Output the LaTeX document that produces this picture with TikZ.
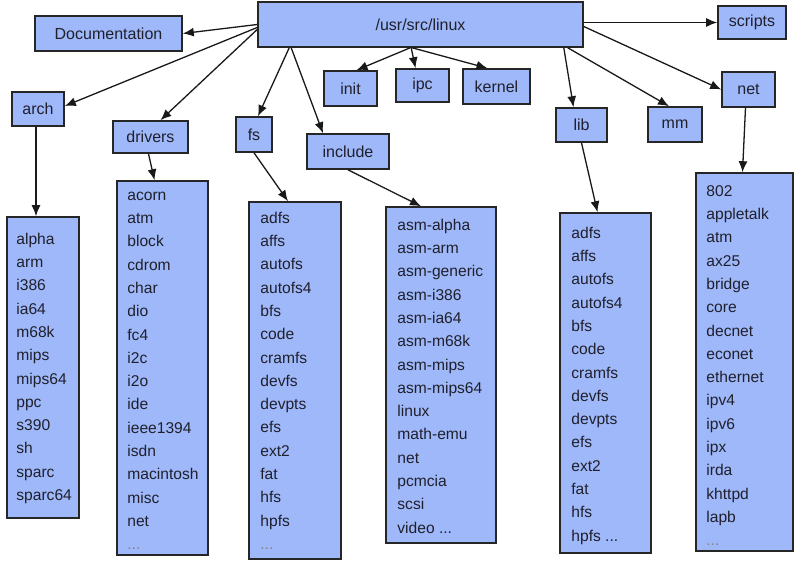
\documentclass[tikz,border=0pt]{standalone}
\usepackage{fontspec}
\setmainfont{Liberation Sans}
\usetikzlibrary{arrows.meta,calc}
\definecolor{boxfill}{RGB}{158,184,249}
\definecolor{txt}{RGB}{32,32,45}
\newcommand\dirnode[6]{\node[#1,minimum width={(#4-#2)*1pt},minimum height={(#5-#3)*1pt}] (#6) at ({(#2+#4)/2},{(#3+#5)/2})}
\newcommand\mydots{...}
\newcommand\fadedots{\textcolor{txt!55}{...}}
\begin{document}
\begin{tikzpicture}[x=1pt,y=-1pt,
 dirbox/.style={draw=black!85,line width=1.6pt,fill=boxfill,inner sep=0pt,text=txt,font=\fontsize{16}{19}\selectfont},
 listbox/.style={draw=black!85,line width=1.6pt,fill=boxfill,inner sep=0pt},
 item/.style={anchor=west,inner sep=0pt,text height=11pt,text depth=3pt,text=txt,font=\fontsize{15.6}{18}\selectfont},
 conn/.style={draw=black!90,line width=1.3pt,-{Latex[length=11pt,width=9pt]}}]
\useasboundingbox (0,0) rectangle (803,571);
% directory boxes
\dirnode{dirbox}{258}{2}{583}{47}{linux} {/usr/src/linux};
\dirnode{dirbox}{35}{16}{182}{51}{doc} {Documentation};
\dirnode{dirbox}{718}{6}{786}{39}{scripts} {scripts};
\dirnode{dirbox}{12}{92}{64}{126}{arch} {arch};
\dirnode{dirbox}{113}{121}{188}{153}{drivers} {drivers};
\dirnode{dirbox}{236}{117}{272}{152}{fs} {fs};
\dirnode{dirbox}{307}{134}{389}{169}{include} {include};
\dirnode{dirbox}{324}{71}{377}{106}{init} {init};
\dirnode{dirbox}{396}{69}{449}{102}{ipc} {ipc};
\dirnode{dirbox}{463}{69}{530}{104}{kernel} {kernel};
\dirnode{dirbox}{556}{108}{607}{142}{lib} {lib};
\dirnode{dirbox}{648}{107}{702}{142}{mm} {mm};
\dirnode{dirbox}{722}{72}{775}{107}{net} {net};
% list boxes
\dirnode{listbox}{7}{217}{79}{518}{archL} {};
\dirnode{listbox}{117}{181}{208}{555}{drvL} {};
\dirnode{listbox}{249}{202}{341}{559}{fsL} {};
\dirnode{listbox}{386}{207}{496}{543}{incL} {};
\dirnode{listbox}{560}{213}{651}{553}{libL} {};
\dirnode{listbox}{696}{173}{793}{551}{netL} {};
% list items
\foreach \t [count=\i from 0] in {alpha,arm,i386,ia64,m68k,mips,mips64,ppc,s390,sh,sparc,sparc64}
  \node[item] (archI\i) at ($(archL.north west)+(10,{24+23.3*\i})$) {\t};
\foreach \t [count=\i from 0] in {acorn,atm,block,cdrom,char,dio,fc4,i2c,i2o,ide,ieee1394,isdn,macintosh,misc,net,\fadedots}
  \node[item] (drvI\i) at ($(drvL.north west)+(11,{16+23.3*\i})$) {\t};
\foreach \t [count=\i from 0] in {adfs,affs,autofs,autofs4,bfs,code,cramfs,devfs,devpts,efs,ext2,fat,hfs,hpfs,\fadedots}
  \node[item] (fsI\i) at ($(fsL.north west)+(12,{18+23.3*\i})$) {\t};
\foreach \t [count=\i from 0] in {asm-alpha,asm-arm,asm-generic,asm-i386,asm-ia64,asm-m68k,asm-mips,asm-mips64,linux,math-emu,net,pcmcia,scsi,video \mydots}
  \node[item] (incI\i) at ($(incL.north west)+(12,{20+23.3*\i})$) {\t};
\foreach \t [count=\i from 0] in {adfs,affs,autofs,autofs4,bfs,code,cramfs,devfs,devpts,efs,ext2,fat,hfs,hpfs \mydots}
  \node[item] (libI\i) at ($(libL.north west)+(12,{22+23.3*\i})$) {\t};
\foreach \t [count=\i from 0] in {802,appletalk,atm,ax25,bridge,core,decnet,econet,ethernet,ipv4,ipv6,ipx,irda,khttpd,lapb,\fadedots}
  \node[item] (netI\i) at ($(netL.north west)+(11,{20+23.3*\i})$) {\t};
% connectors from /usr/src/linux
\draw[conn] (linux.west) -- (doc.east);
\draw[conn] ([yshift=-3pt]linux.west) -- ([yshift=3pt]arch.east);
\draw[conn] ([yshift=-5pt]linux.west) -- ([xshift=10pt]drivers.north);
\draw[conn] ([xshift=32pt]linux.south west) -- ([xshift=4pt]fs.north);
\draw[conn] ([xshift=34pt]linux.south west) -- ([xshift=-25pt]include.north);
\draw[conn] ([xshift=153pt]linux.south west) -- ([xshift=6pt]init.north);
\draw[conn] ([xshift=154pt]linux.south west) -- ([xshift=-7pt]ipc.north);
\draw[conn] ([xshift=155pt]linux.south west) -- ([xshift=-9pt]kernel.north);
\draw[conn] ([xshift=-20pt]linux.south east) -- ([xshift=-8pt]lib.north);
\draw[conn] ([xshift=-16pt]linux.south east) -- ([xshift=-6pt]mm.north);
\draw[conn] ([yshift=-2pt]linux.east) -- (net.west);
\draw[conn] (scripts.west -| linux.east) -- (scripts.west);
% connectors to lists
\draw[conn] ([xshift=-2pt]arch.south) -- ([xshift=-2pt]arch.south |- archL.north);
\draw[conn] ([xshift=-2pt]drivers.south) -- ([xshift=-8pt]drvL.north);
\draw[conn] (fs.south) -- ([xshift=-7pt]fsL.north);
\draw[conn] (include.south) -- ([xshift=-20pt]incL.north);
\draw[conn] (lib.south) -- ([xshift=-8pt]libL.north);
\draw[conn] ([xshift=-3pt]net.south) -- ([xshift=-2pt]netL.north);
\end{tikzpicture}
\end{document}
